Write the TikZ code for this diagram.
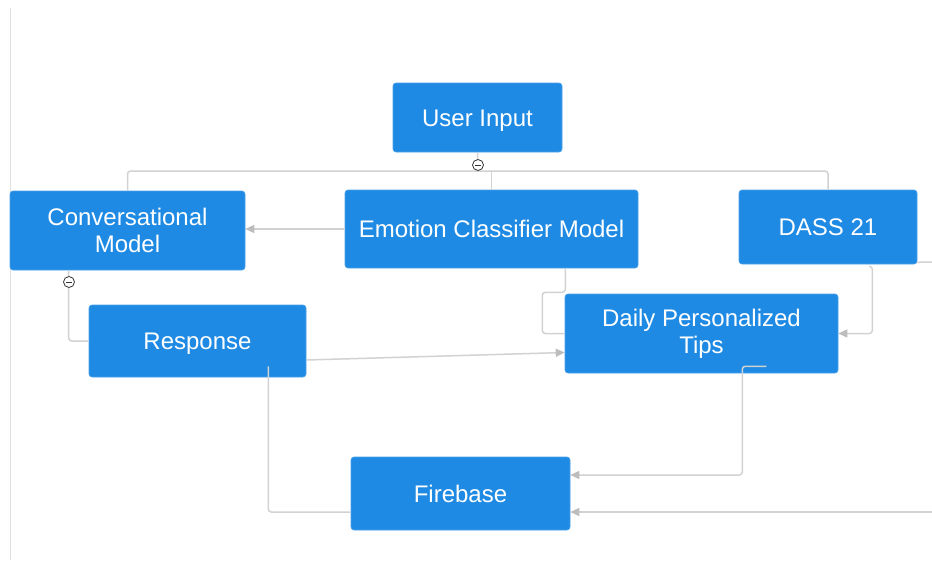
\documentclass[tikz,border=0pt]{standalone}
\usepackage{fontspec}
\setmainfont{Liberation Sans}
\usetikzlibrary{arrows.meta}
\definecolor{boxblue}{HTML}{1E8AE4}
\definecolor{linegray}{HTML}{D2D2D2}
\definecolor{tipgray}{HTML}{BDBDBD}
\begin{document}
\begin{tikzpicture}[x=1pt,y=-1pt,
  box/.style={rectangle, rounded corners=3pt, fill=boxblue, draw=boxblue!80!white, line width=0.6pt,
    text=white, align=center, font=\fontsize{24}{27}\selectfont, inner sep=0pt},
  oneline/.style={text height=17pt, text depth=0pt},
  conn/.style={draw=linegray, line width=1.5pt, rounded corners=3pt},
  arr/.style={conn, -{Triangle[length=9pt,width=8pt,color=tipgray]}},
  minus/.style={circle, draw=black!80, fill=white, line width=0.8pt, minimum size=11pt, inner sep=0pt,
    path picture={\draw[black!80, line width=0.9pt] ([xshift=-3pt]path picture bounding box.center) -- ([xshift=3pt]path picture bounding box.center);}}
]
\useasboundingbox (0,0) rectangle (932,565);
\fill[white] (0,0) rectangle (932,565);
\draw[draw=black!12, line width=1pt] (10,8) -- (10,560);

% nodes
\node[box, oneline, minimum width=169pt, minimum height=69pt] (ui) at (477.5,117.5) {User Input};
\node[box, minimum width=235pt, minimum height=79pt] (conv) at (127.5,230.5) {Conversational\\Model};
\node[box, oneline, minimum width=293pt, minimum height=78pt] (ec) at (491.5,229) {Emotion Classifier Model};
\node[box, oneline, minimum width=178pt, minimum height=74pt] (dass) at (828,227) {DASS 21};
\node[box, oneline, minimum width=217pt, minimum height=72pt] (resp) at (197.5,341) {Response};
\node[box, minimum width=273pt, minimum height=79pt] (tips) at (701.5,333.5) {Daily Personalized\\Tips};
\node[box, oneline, minimum width=219pt, minimum height=73pt] (fb) at (460.5,493.5) {Firebase};

% coordinates
\coordinate (j) at (478,171);
\coordinate (edgeA) at (932,262);
\coordinate (edgeB) at (932,512);

% User Input fan-out
\draw[conn] (ui.south) -- (j);
\draw[conn] (conv.north) |- (j) -| (dass.north);
\draw[conn, rounded corners=0pt] (j -| ec.north) -- (ec.north);
\node[minus] (m1) at (478,165) {};

% Emotion Classifier -> Conversational Model
\draw[arr] (ec.west) -- (conv.east |- ec.west);

% Conversational Model -> Response
\draw[conn] ([xshift=59pt]conv.south west) |- (resp.west);
\node[minus] (m2) at (69,282) {};

% Emotion Classifier -> Tips
\draw[conn] ([xshift=-73pt]ec.south east) -- ++(0,24) -- ++(-23,0) |- (tips.west);

% Response -> Tips
\draw[arr] ([yshift=-19pt]resp.east) -- ([yshift=-19pt]tips.west);

% DASS -> Tips
\draw[arr] ([xshift=-48pt,yshift=-2pt]dass.south east) -- ++(3,0) |- (tips.east);

% DASS -> off page
\draw[conn] ([yshift=2pt]dass.south east) -- (edgeA);

% off page -> Firebase
\draw[arr] (edgeB) -- ([yshift=-18.5pt]fb.east);

% Tips -> Firebase
\draw[arr] ([xshift=-72pt,yshift=7pt]tips.south east) -- ++(-24,0) |- ([yshift=18.5pt]fb.east);

% Response -> Firebase
\draw[conn] ([xshift=-38pt,yshift=11pt]resp.south east) |- ([yshift=-18.5pt]fb.west);
\end{tikzpicture}
\end{document}
